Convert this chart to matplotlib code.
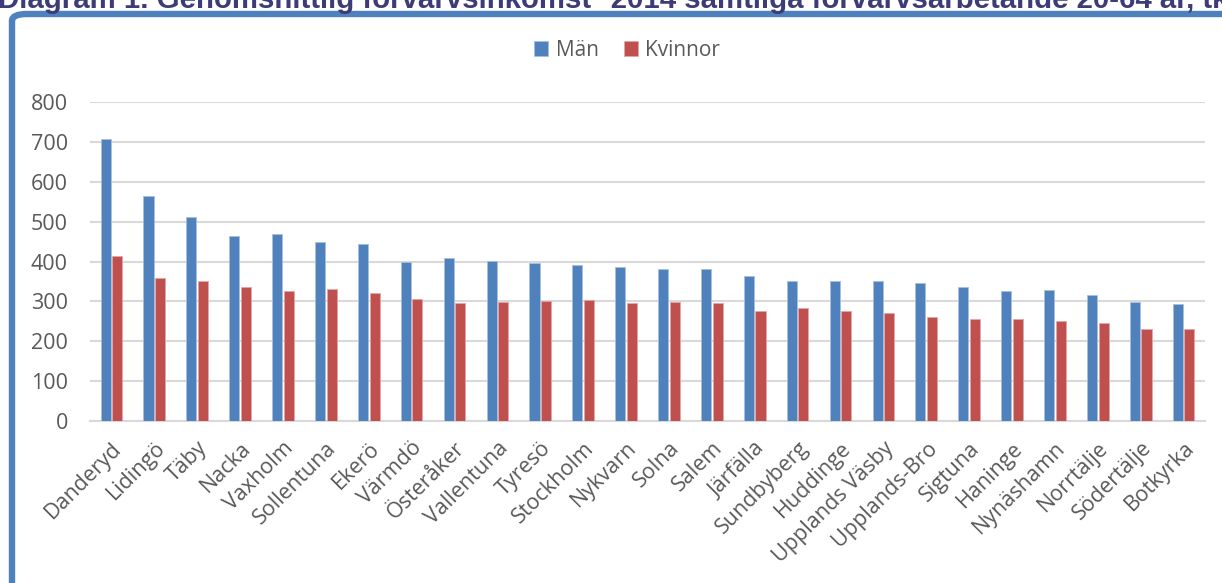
import matplotlib
matplotlib.use("Agg")
import matplotlib.pyplot as plt
from matplotlib.patches import FancyBboxPatch
import numpy as np

categories = ["Danderyd", "Lidingö", "Täby", "Nacka", "Vaxholm", "Sollentuna", "Ekerö",
              "Värmdö", "Österåker", "Vallentuna", "Tyresö", "Stockholm", "Nykvarn", "Solna",
              "Salem", "Järfälla", "Sundbyberg", "Huddinge", "Upplands Väsby", "Upplands-Bro",
              "Sigtuna", "Haninge", "Nynäshamn", "Norrtälje", "Södertälje", "Botkyrka"]
man = [708, 565, 512, 464, 470, 449, 445, 399, 409, 402, 395, 392, 385, 381,
       382, 364, 350, 352, 352, 347, 337, 326, 328, 316, 299, 294]
kvinnor = [414, 358, 351, 335, 326, 330, 322, 306, 296, 299, 302, 304, 296, 299,
           295, 275, 283, 277, 272, 261, 257, 257, 252, 247, 231, 231]
yticks = [0, 100, 200, 300, 400, 500, 600, 700, 800]
title = "Diagram 1. Genomsnittlig förvärvsinkomst* 2014 samtliga förvärvsarbetande 20-64 år, tkr"

W, H = 1222, 583
fig = plt.figure(figsize=(W / 100, H / 100), dpi=100)
fig.patch.set_facecolor("white")

font = ["Open Sans", "DejaVu Sans"]
txtcol = "#595959"
fs = 15.5

# border of chart area
border = FancyBboxPatch((12 / W, -0.2), 1.2, (1 - 14 / H) + 0.2,
                        boxstyle="round,pad=0,rounding_size=0.012",
                        transform=fig.transFigure, facecolor="none",
                        edgecolor="#4F81BD", linewidth=4.6, zorder=0)
fig.patches.append(border)

fig.text(-0.002, 1 - 7.5 / H, title, fontsize=21.2, fontweight="bold",
         family=["Liberation Sans", "DejaVu Sans"], color="#3C3C78",
         va="baseline", ha="left")

ax = fig.add_axes([90 / W, 1 - 421 / H, (1205 - 90) / W, (421 - 102) / H])
x = np.arange(len(categories))
w = 0.235
off = 0.135
b1 = ax.bar(x - off, man, width=w, color="#4F81BD", edgecolor="#A7C0DE",
            linewidth=0.6, label="Män", zorder=3)
b2 = ax.bar(x + off, kvinnor, width=w, color="#C0504D", edgecolor="#E2A6A5",
            linewidth=0.6, label="Kvinnor", zorder=3)

ax.set_xlim(-0.5, len(categories) - 0.5)
ax.set_ylim(0, 800)
ax.set_yticks(yticks)
ax.set_yticklabels([str(v) for v in yticks], family=font, fontsize=fs, color=txtcol)
ax.yaxis.grid(True, color="#D9D9D9", linewidth=1.5, zorder=0)
ax.set_axisbelow(True)
for s in ["left", "right", "top"]:
    ax.spines[s].set_visible(False)
ax.spines["bottom"].set_color("#D9D9D9")
ax.spines["bottom"].set_linewidth(1.5)
ax.tick_params(axis="y", length=0, pad=16)
ax.tick_params(axis="x", length=0, pad=12)
ax.set_xticks(x)
ax.set_xticklabels(categories, rotation=45, ha="right", rotation_mode="anchor",
                   family=font, fontsize=fs, color=txtcol)

leg = fig.legend(handles=[b1, b2], labels=["Män", "Kvinnor"], loc="center",
                 bbox_to_anchor=(627 / W, 1 - 50 / H), ncol=2, frameon=False,
                 prop={"family": font, "size": 15}, handlelength=0.7,
                 handleheight=0.7, handletextpad=0.35, columnspacing=1.2)
for t in leg.get_texts():
    t.set_color(txtcol)

fig.savefig("out.png", dpi=100, facecolor="white")
